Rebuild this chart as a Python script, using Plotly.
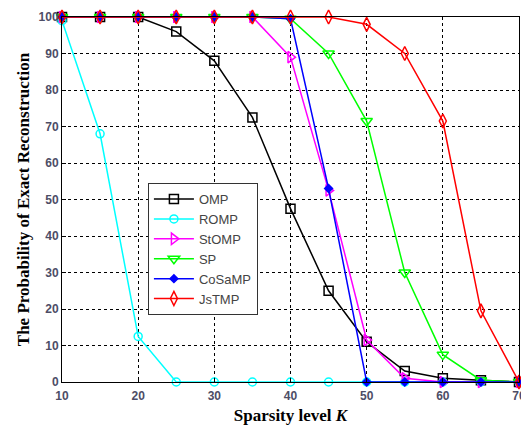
import plotly.graph_objects as go

K = [10, 15, 20, 25, 30, 35, 40, 45, 50, 55, 60, 65, 70]
omp = [100, 100, 100, 96, 88, 72.5, 47.5, 25, 11, 3, 1, 0.5, 0]
romp = [99, 68, 12.5, 0, 0, 0, 0, 0, 0, 0, 0, 0, 0]
stomp = [100, 100, 100, 100, 100, 100, 89, 52.5, 11.5, 1, 0, 0, 0]
sp = [100, 100, 100, 100, 100, 100, 99.5, 90, 71.5, 30, 7.5, 0.5, 0]
cosamp = [100, 100, 100, 100, 100, 100, 99.5, 53, 0, 0, 0, 0, 0]
jstmp = [100, 100, 100, 100, 100, 100, 100, 100, 98, 90, 71.5, 19.5, 0]

series = [
    ("OMP", omp, "#000000", "square-open", 9),
    ("ROMP", romp, "#00FFFF", "circle-open", 8),
    ("StOMP", stomp, "#FF00FF", "triangle-right-open", 10),
    ("SP", sp, "#00FF00", "triangle-down-open", 10),
    ("CoSaMP", cosamp, "#0000FF", "diamond", 6),
    ("JsTMP", jstmp, "#FF0000", "diamond-tall-open", 10),
]

fig = go.Figure()
for name, ys, color, sym, size in series:
    fig.add_trace(go.Scatter(
        x=K, y=ys, name=name, mode="lines+markers",
        line=dict(color=color, width=1.5),
        marker=dict(symbol=sym, size=size, color=color, line=dict(color=color, width=1.5)),
        cliponaxis=False,
    ))

tickfont = dict(family="Arial", size=12, color="#4d4d66", weight="bold")
titlefont = dict(family="Times New Roman, Liberation Serif, serif", size=17, color="#000000")
fig.update_layout(
    width=529, height=429,
    margin=dict(l=54, r=18, t=9, b=55),
    paper_bgcolor="white", plot_bgcolor="white",
    showlegend=True,
    legend=dict(
        x=0.188, y=0.545, xanchor="left", yanchor="top",
        bgcolor="white", bordercolor="#333333", borderwidth=1,
        font=dict(family="Arial", size=13, color="#444444"),
        tracegroupgap=0, itemwidth=40,
    ),
    xaxis=dict(
        range=[10, 70], tickvals=[10, 20, 30, 40, 50, 60, 70],
        showgrid=True, gridcolor="#000000", griddash="dot", gridwidth=1,
        showline=True, linecolor="#000000", linewidth=1, mirror=True,
        ticks="inside", ticklen=4, tickcolor="#000000", ticklabelstandoff=3,
        tickfont=tickfont, zeroline=False, automargin=False,
        title=dict(text="<b>Sparsity level <i>K</i></b>", font=titlefont, standoff=6),
    ),
    yaxis=dict(
        range=[0, 100], tickvals=list(range(0, 101, 10)),
        showgrid=True, gridcolor="#000000", griddash="dot", gridwidth=1,
        showline=True, linecolor="#000000", linewidth=1, mirror=True,
        ticks="inside", ticklen=4, tickcolor="#000000",
        tickfont=tickfont, zeroline=False, automargin=False,
        title=dict(text="<b>The Probability of Exact Reconstruction</b>", font=titlefont, standoff=4),
    ),
)

fig.write_html("out.html")
